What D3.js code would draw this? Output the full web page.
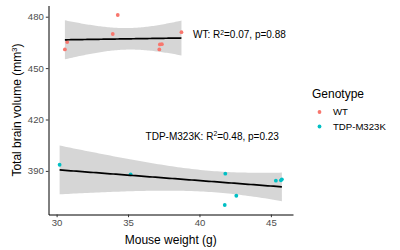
<!DOCTYPE html>
<html>
<head>
<meta charset="utf-8">
<script src="https://cdn.jsdelivr.net/npm/d3@7"></script>
<style>
  body { margin: 0; background: #fff; }
  text { font-family: "Liberation Sans", Arial, sans-serif; }
</style>
</head>
<body>
<div id="chart"></div>
<script>
// data
const genotypes = ["WT", "TDP-M323K"];
const colors = ["#F8766D", "#00BFC4"];
const wtWeight = [30.58, 30.74, 33.93, 34.28, 37.19, 37.23, 37.37, 38.74];
const wtVolume = [460.9, 465.2, 469.9, 481.0, 460.9, 463.8, 464.0, 471.0];
const tdpWeight = [30.21, 35.18, 41.81, 41.77, 42.58, 45.35, 45.70, 45.77];
const tdpVolume = [393.6, 388.0, 388.4, 370.1, 375.5, 384.3, 384.5, 385.1];
const statLabels = ["WT: R|2|=0.07, p=0.88", "TDP-M323K: R|2|=0.48, p=0.23"];
const xTicks = [30, 35, 40, 45];
const yTicks = [390, 420, 450, 480];

const width = 400, height = 250;
const panel = {left: 48.5, right: 293, top: 5.5, bottom: 214.5};

const svg = d3.select("#chart").append("svg")
    .attr("width", width)
    .attr("height", height);

const groups = [
  {name: genotypes[0], color: colors[0], pts: wtWeight.map((w, i) => ({w: w, v: wtVolume[i]}))},
  {name: genotypes[1], color: colors[1], pts: tdpWeight.map((w, i) => ({w: w, v: tdpVolume[i]}))}
];

// t quantile (0.975) for small df
const tq = {4: 2.776, 5: 2.571, 6: 2.447, 7: 2.365, 8: 2.306, 9: 2.262, 10: 2.228};

// linear fit + 95% confidence band, like geom_smooth(method = "lm")
groups.forEach(g => {
  const n = g.pts.length;
  const mx = d3.mean(g.pts, d => d.w), my = d3.mean(g.pts, d => d.v);
  const sxx = d3.sum(g.pts, d => (d.w - mx) ** 2);
  const sxy = d3.sum(g.pts, d => (d.w - mx) * (d.v - my));
  const slope = sxy / sxx, icpt = my - slope * mx;
  const sse = d3.sum(g.pts, d => (d.v - icpt - slope * d.w) ** 2);
  const s = Math.sqrt(sse / (n - 2));
  const t = tq[n - 2];
  const [x0, x1] = d3.extent(g.pts, d => d.w);
  g.fit = d3.range(80).map(i => {
    const x = x0 + (x1 - x0) * i / 79;
    const y = icpt + slope * x;
    const se = s * Math.sqrt(1 / n + (x - mx) ** 2 / sxx);
    return {x: x, y: y, lo: y - t * se, hi: y + t * se};
  });
});

const allW = groups.flatMap(g => g.pts.map(d => d.w));
const allV = groups.flatMap(g => g.pts.map(d => d.v).concat(g.fit.flatMap(f => [f.lo, f.hi])));
const [wMin, wMax] = d3.extent(allW);
const [vMin, vMax] = d3.extent(allV);
const wPad = (wMax - wMin) * 0.05, vPad = (vMax - vMin) * 0.05;

const x = d3.scaleLinear().domain([wMin - wPad, wMax + wPad]).range([panel.left, panel.right]);
const y = d3.scaleLinear().domain([vMin - vPad, vMax + vPad]).range([panel.bottom, panel.top]);

// bands
groups.forEach(g => {
  svg.append("path")
    .datum(g.fit)
    .attr("fill", "#999999")
    .attr("fill-opacity", 0.4)
    .attr("d", d3.area().x(d => x(d.x)).y0(d => y(d.lo)).y1(d => y(d.hi)));
});

// points
groups.forEach(g => {
  svg.append("g").selectAll("circle")
    .data(g.pts)
    .join("circle")
    .attr("cx", d => x(d.w))
    .attr("cy", d => y(d.v))
    .attr("r", 1.9)
    .attr("fill", g.color);
});

// fitted lines
groups.forEach(g => {
  svg.append("path")
    .datum(g.fit)
    .attr("fill", "none")
    .attr("stroke", "black")
    .attr("stroke-width", 1.7)
    .attr("d", d3.line().x(d => x(d.x)).y(d => y(d.y)));
});

// axes
const xAxis = svg.append("g")
    .attr("transform", `translate(0,${panel.bottom})`)
    .call(d3.axisBottom(x).tickValues(xTicks).tickSize(2.7).tickSizeOuter(0).tickPadding(2));
const yAxis = svg.append("g")
    .attr("transform", `translate(${panel.left},0)`)
    .call(d3.axisLeft(y).tickValues(yTicks).tickSize(2.7).tickSizeOuter(0).tickPadding(2));
[xAxis, yAxis].forEach(a => {
  a.select(".domain").attr("stroke", "black").attr("stroke-width", 1);
  a.selectAll(".tick line").attr("stroke", "#333333");
  a.selectAll(".tick text").attr("fill", "#4d4d4d").style("font-size", "9.6px")
    .style("font-family", "'Liberation Sans', Arial, sans-serif");
});

// axis titles
svg.append("text")
    .attr("x", (panel.left + panel.right) / 2)
    .attr("y", 244)
    .attr("text-anchor", "middle")
    .style("font-size", "12px")
    .text("Mouse weight (g)");

const yt = svg.append("text")
    .attr("transform", `translate(21,${(panel.top + panel.bottom) / 2}) rotate(-90)`)
    .attr("text-anchor", "middle")
    .style("font-size", "12px");
yt.append("tspan").text("Total brain volume (mm");
yt.append("tspan").attr("dy", -4.5).style("font-size", "8px").text("3");
yt.append("tspan").attr("dy", 4.5).text(")");

// R2 labels
const labelPos = [{w: 39.55, v: 467.4}, {w: 36.23, v: 408.1}];
statLabels.forEach((lab, i) => {
  const parts = lab.split("|");
  const t = svg.append("text")
      .attr("x", x(labelPos[i].w))
      .attr("y", y(labelPos[i].v))
      .style("font-size", "10px");
  t.append("tspan").text(parts[0]);
  t.append("tspan").attr("dy", -3.8).style("font-size", "6.8px").text(parts[1]);
  t.append("tspan").attr("dy", 3.8).text(parts[2]);
});

// legend
const legend = svg.append("g").attr("transform", "translate(312,0)");
legend.append("text")
    .attr("x", 0)
    .attr("y", 97.5)
    .style("font-size", "12px")
    .text("Genotype");
groups.forEach((g, i) => {
  legend.append("circle")
      .attr("cx", 7.5)
      .attr("cy", 112 + i * 14.5)
      .attr("r", 1.9)
      .attr("fill", g.color);
  legend.append("text")
      .attr("x", 21)
      .attr("y", 112 + i * 14.5 + 3.4)
      .style("font-size", "9.6px")
      .text(g.name);
});
</script>
</body>
</html>
